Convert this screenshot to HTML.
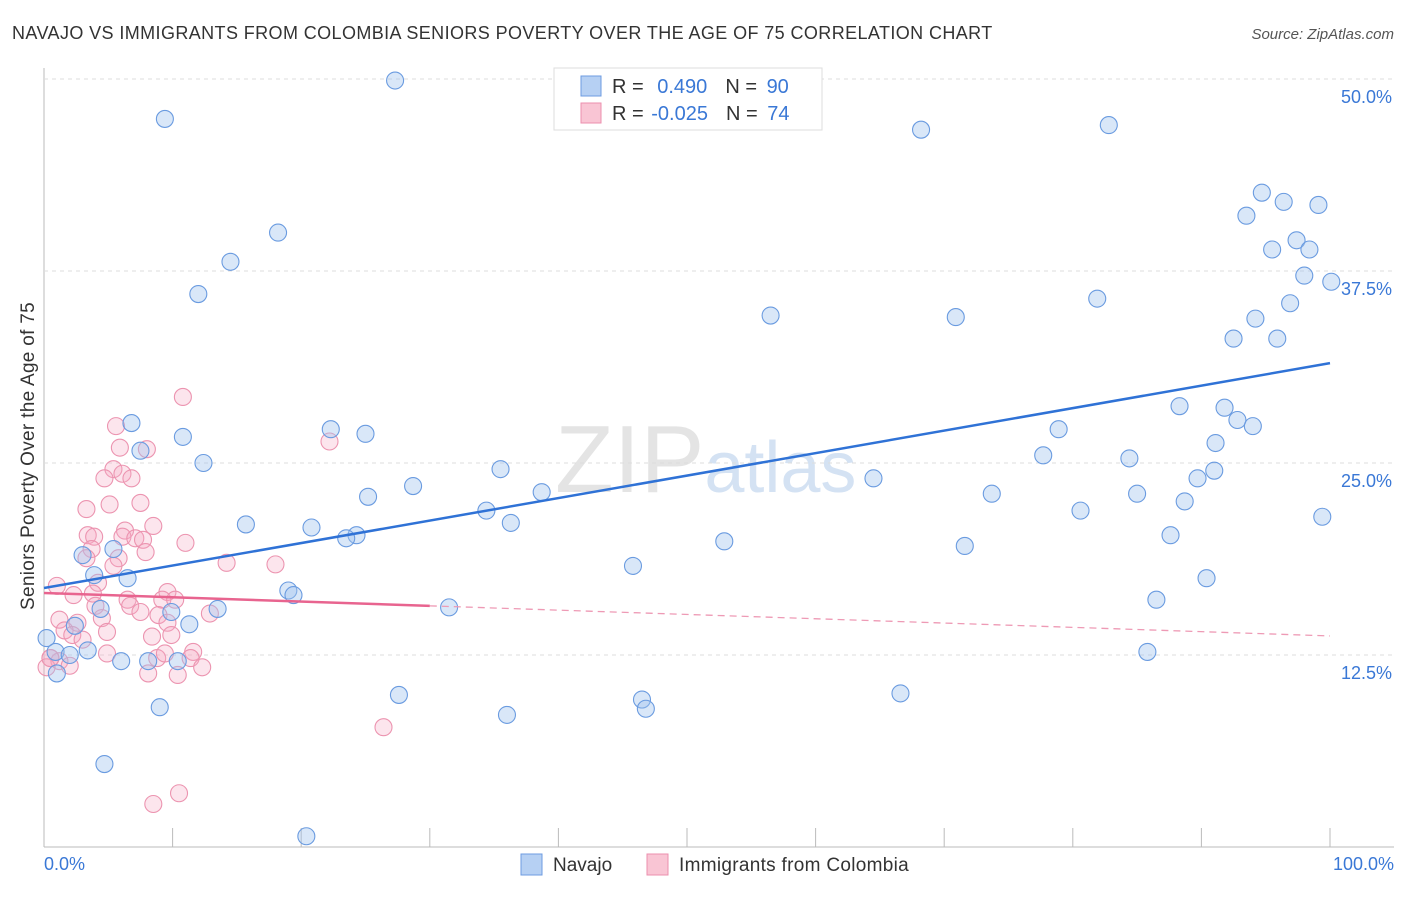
<!DOCTYPE html>
<html><head><meta charset="utf-8"><style>
body{margin:0;background:#fff;font-family:"Liberation Sans",sans-serif}
svg text{font-family:"Liberation Sans",sans-serif}
</style></head><body>
<svg id="c" width="1406" height="892">
<text x="12" y="39" font-size="18" fill="#333" letter-spacing="0.4">NAVAJO VS IMMIGRANTS FROM COLOMBIA SENIORS POVERTY OVER THE AGE OF 75 CORRELATION CHART</text>
<text x="1394" y="39" font-size="15" fill="#555" font-style="italic" text-anchor="end">Source: ZipAtlas.com</text>
<text x="555" y="492" font-size="96" fill="#e4e4e4" font-family="Liberation Serif">ZIP<tspan fill="#d4e2f3" font-family="Liberation Sans" font-size="72">atlas</tspan></text>
<g id="grid"></g><g id="pts"></g><g id="lines"></g>
<text transform="translate(34,456) rotate(-90)" font-size="19" fill="#333" letter-spacing="0.3" text-anchor="middle">Seniors Poverty Over the Age of 75</text>
<text x="44" y="870" font-size="18" fill="#3a78d6">0.0%</text>
<text x="1394" y="870" font-size="18" fill="#3a78d6" text-anchor="end">100.0%</text>
<g>
<rect x="554" y="68" width="268" height="62" fill="#fff" stroke="#ddd"/>
<rect x="581" y="76" width="20" height="20" fill="#b6d0f3" stroke="#6d9be0"/>
<rect x="581" y="103" width="20" height="20" fill="#f9c5d4" stroke="#ec8fae"/>
<text x="612" y="93" font-size="20" fill="#333">R = <tspan fill="#3a78d6" dx="8">0.490</tspan><tspan dx="18">N = </tspan><tspan fill="#3a78d6" dx="4">90</tspan></text>
<text x="612" y="120" font-size="20" fill="#333">R = <tspan fill="#3a78d6" dx="2">-0.025</tspan><tspan dx="18">N = </tspan><tspan fill="#3a78d6" dx="4">74</tspan></text>
</g>
<g>
<rect x="521" y="854" width="21" height="21" fill="#b6d0f3" stroke="#6d9be0"/>
<text x="553" y="871" font-size="19" fill="#333">Navajo</text>
<rect x="647" y="854" width="21" height="21" fill="#f9c5d4" stroke="#ec8fae"/>
<text x="679" y="871" font-size="19" fill="#333" letter-spacing="0.3">Immigrants from Colombia</text>
</g>
</svg>
<script>
const yTicks=[12.5,25,37.5,50];
const xTicks=[0,10,20,30,40,50,60,70,80,90,100];
const navajoX=[27.3,9.4,68.2,82.8,94.7,96.4,93.5,99.1,97.4,95.5,98.4,98,100.1,96.9,94.2,92.5,95.9,18.2,14.5,12,56.5,70.9,81.9,6.8,22.3,25,7.5,10.8,78.9,88.3,91.8,92.8,94,91.1,12.4,35.5,28.7,25.2,38.7,64.5,77.7,84.4,85,73.7,89.7,91,88.7,80.6,99.4,34.4,36.3,15.7,20.8,24.3,23.5,52.9,87.6,71.6,45.8,5.4,3,3.9,6.5,4.4,9.9,90.4,86.5,19,19.4,13.5,31.5,11.3,2.4,85.8,0.2,0.9,3.4,2,6,8.1,10.4,1,27.6,66.6,46.5,46.8,9,36,4.7,20.4];
const navajoY=[49.9,47.4,46.7,47,42.6,42,41.1,41.8,39.5,38.9,38.9,37.2,36.8,35.4,34.4,33.1,33.1,40,38.1,36,34.6,34.5,35.7,27.6,27.2,26.9,25.8,26.7,27.2,28.7,28.6,27.8,27.4,26.3,25,24.6,23.5,22.8,23.1,24,25.5,25.3,23,23,24,24.5,22.5,21.9,21.5,21.9,21.1,21,20.8,20.3,20.1,19.9,20.3,19.6,18.3,19.4,19,17.7,17.5,15.5,15.3,17.5,16.1,16.7,16.4,15.5,15.6,14.5,14.4,12.7,13.6,12.7,12.8,12.5,12.1,12.1,12.1,11.3,9.9,10,9.6,9,9.1,8.6,5.4,0.7];
const colX=[10.8,5.6,5.9,8,5.4,6.1,4.7,6.8,3.3,5.1,7.5,3.4,3.9,6.3,6.1,7.1,7.7,8.5,7.9,11,3.7,3.3,5.8,5.4,14.2,1,4.2,2.3,3.8,6.5,9.6,9.2,10.2,4,6.7,7.5,8.9,12.9,1.2,2.6,4.5,9.6,1.6,4.9,2.2,3,8.4,9.9,11.6,4.9,8.8,9.4,11.4,0.5,1.2,2,12.3,8.1,10.4,0.2,22.2,18,26.4,8.5,10.5,0.5];
const colY=[29.3,27.4,26,25.9,24.6,24.3,24,24,22,22.3,22.4,20.3,20.2,20.6,20.2,20.1,20,20.9,19.2,19.8,19.4,18.8,18.8,18.3,18.5,17,17.2,16.4,16.5,16.1,16.6,16.1,16.1,15.7,15.7,15.3,15.1,15.2,14.8,14.6,14.9,14.6,14.1,14,13.8,13.5,13.7,13.8,12.7,12.6,12.3,12.6,12.3,12.3,12.1,11.8,11.7,11.3,11.2,11.7,26.4,18.4,7.8,2.8,3.5,12.3];
const blueTrend=[16.86,31.5];
const pinkTrend=[16.54,13.74];
const pinkSolidEnd=30;
const X=v=>44+v*12.86, Y=v=>847-v*15.36;
const NS='http://www.w3.org/2000/svg';
function mk(t,a,p){const e=document.createElementNS(NS,t);for(const k in a)e.setAttribute(k,a[k]);document.getElementById(p).appendChild(e);return e;}
mk('line',{x1:44,y1:68,x2:44,y2:847,stroke:'#bbb'},'grid');
mk('line',{x1:44,y1:847,x2:1394,y2:847,stroke:'#bbb'},'grid');
yTicks.forEach(t=>{
const g=mk('line',{x1:44,y1:Y(t),x2:1394,y2:Y(t),stroke:'#ddd','stroke-dasharray':'4,4'},'grid');


const l=mk('text',{x:1392,y:Y(t)+24,'font-size':18,fill:'#3a78d6','text-anchor':'end'},'grid');
l.textContent=t.toFixed(1)+'%';


});
xTicks.forEach(t=>{
const k=mk('line',{x1:X(t),y1:828,x2:X(t),y2:847,stroke:'#bbb'},'grid');


});
colX.forEach((v,i)=>{
const c=mk('circle',{cx:X(v),cy:Y(colY[i]),r:8.5,fill:'rgba(244,170,194,0.3)',stroke:'#ec94b0','stroke-width':1.1},'pts');


});
navajoX.forEach((v,i)=>{
const c=mk('circle',{cx:X(v),cy:Y(navajoY[i]),r:8.5,fill:'rgba(160,194,238,0.4)',stroke:'#6a9be0','stroke-width':1.1},'pts');


});
const bl=mk('line',{x1:X(0),y1:Y(blueTrend[0]),x2:X(100),y2:Y(blueTrend[1]),stroke:'#2f72d6','stroke-width':2.5},'lines');


const pAt=x=>pinkTrend[0]+(pinkTrend[1]-pinkTrend[0])*x/100;
const pl=mk('line',{x1:X(0),y1:Y(pAt(0)),x2:X(pinkSolidEnd),y2:Y(pAt(pinkSolidEnd)),stroke:'#e8648f','stroke-width':2.5},'lines');


const pd=mk('line',{x1:X(pinkSolidEnd),y1:Y(pAt(pinkSolidEnd)),x2:X(100),y2:Y(pAt(100)),stroke:'#ee9ab5','stroke-width':1.3,'stroke-dasharray':'7,5'},'lines');


</script>
</body></html>
